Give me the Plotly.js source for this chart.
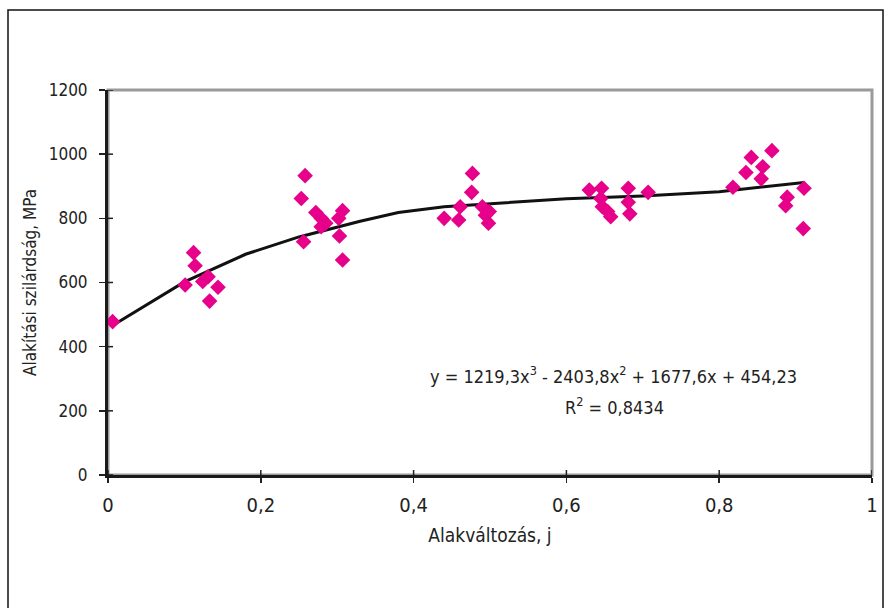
<!DOCTYPE html>
<html>
<head>
<meta charset="utf-8">
<script src="https://cdn.plot.ly/plotly-3.0.1.min.js"></script>
<style>
  html, body { margin: 0; padding: 0; background: #fff; }
  #chart { width: 884px; height: 608px; }
</style>
</head>
<body>
<div id="chart"></div>
<script>
// Measured data points (Alakváltozás, j  vs  Alakítási szilárdság, MPa)
const strainX = [
  0.006,
  0.101, 0.112, 0.114, 0.124, 0.131, 0.133, 0.144,
  0.253, 0.256, 0.258, 0.272, 0.279, 0.279, 0.285, 0.302, 0.303, 0.307, 0.307,
  0.440, 0.459, 0.461, 0.476, 0.477, 0.490, 0.494, 0.498, 0.499,
  0.630, 0.645, 0.646, 0.647, 0.654, 0.658, 0.681, 0.681, 0.683, 0.707,
  0.818, 0.835, 0.842, 0.855, 0.857, 0.869, 0.887, 0.889, 0.910, 0.911
];
const stressY = [
  478,
  592, 693, 652, 603, 618, 542, 585,
  862, 727, 933, 818, 800, 774, 785, 800, 745, 824, 670,
  800, 795, 836, 881, 940, 836, 810, 785, 821,
  888, 862, 894, 836, 821, 805, 894, 850, 814, 881,
  897, 943, 990, 923, 961, 1011, 839, 866, 768, 894
];
// Trend line
const trendX = [0.006, 0.10, 0.18, 0.25, 0.33, 0.38, 0.44, 0.50, 0.60, 0.70, 0.80, 0.911];
const trendY = [466, 602, 688, 742, 791, 818, 836, 846, 861, 870, 883, 912];

const xTicks = [0, 0.2, 0.4, 0.6, 0.8, 1];
const xTickText = ['0', '0,2', '0,4', '0,6', '0,8', '1'];
const yTicks = [0, 200, 400, 600, 800, 1000, 1200];
const yTickText = ['0', '200', '400', '600', '800', '1000', '1200'];

const eqText = 'y = 1219,3x<sup>3</sup> - 2403,8x<sup>2</sup> + 1677,6x + 454,23';
const r2Text = 'R<sup>2</sup> = 0,8434';
const xTitle = 'Alakváltozás, j';
const yTitle = 'Alakítási szilárdság, MPa';

const FONT = '"DejaVu Sans Condensed", "Liberation Sans Narrow", sans-serif';
const TXT = '#222222';

const traces = [
  {
    x: trendX, y: trendY, type: 'scatter', mode: 'lines',
    line: { color: '#111111', width: 3 }, hoverinfo: 'skip', showlegend: false
  },
  {
    x: strainX, y: stressY, type: 'scatter', mode: 'markers',
    marker: { symbol: 'diamond', size: 12, color: '#e6008a', line: { width: 0 } },
    showlegend: false
  }
];

// inner half of the crossing tick marks
const innerTicks = [];
xTicks.forEach(v => innerTicks.push({
  type: 'line', xref: 'x', yref: 'paper', x0: v, x1: v, y0: 0, y1: 5 / 385,
  line: { color: '#222222', width: 1.5 }, layer: 'above'
}));
yTicks.forEach(v => innerTicks.push({
  type: 'line', xref: 'paper', yref: 'y', x0: 0, x1: 5 / 764, y0: v, y1: v,
  line: { color: '#222222', width: 1.5 }, layer: 'above'
}));

const layout = {
  width: 884, height: 608,
  margin: { l: 108, r: 12, t: 90, b: 133, pad: 0 },
  paper_bgcolor: '#ffffff', plot_bgcolor: '#ffffff',
  font: { family: FONT, color: TXT, size: 17 },
  showlegend: false,
  xaxis: {
    range: [0, 1], tickvals: xTicks, ticktext: xTickText,
    ticks: 'outside', ticklen: 5, tickwidth: 1.5, tickcolor: '#222',
    showline: true, linecolor: '#1a1a1a', linewidth: 3,
    showgrid: false, zeroline: false,
    tickfont: { family: FONT, size: 20, color: TXT },
    ticklabelstandoff: 5,
    title: { text: xTitle, font: { family: FONT, size: 19, color: TXT }, standoff: 13 }
  },
  yaxis: {
    range: [0, 1200], tickvals: yTicks, ticktext: yTickText,
    ticks: 'outside', ticklen: 6, tickwidth: 1.5, tickcolor: '#222',
    showline: true, linecolor: '#1a1a1a', linewidth: 3,
    showgrid: false, zeroline: false,
    tickfont: { family: FONT, size: 17, color: TXT },
    ticklabelstandoff: 8,
    title: { text: yTitle, font: { family: FONT, size: 17, color: TXT }, standoff: 8 }
  },
  shapes: [
    { type: 'rect', xref: 'paper', yref: 'paper', x0: 0, x1: 1, y0: 0, y1: 1,
      line: { color: '#9a9a9a', width: 3 }, layer: 'below' },
    { type: 'rect', xref: 'paper', yref: 'paper',
      x0: (8 - 108) / 764, x1: (883 - 108) / 764,
      y0: (475 - 650) / 385, y1: (475 - 10) / 385,
      line: { color: '#111111', width: 1.5 }, layer: 'below' }
  ].concat(innerTicks),
  annotations: [
    { xref: 'paper', yref: 'paper', x: (613 - 108) / 764, y: (475 - 375) / 385,
      text: eqText, showarrow: false, xanchor: 'center', yanchor: 'middle',
      font: { family: FONT, size: 18, color: TXT } },
    { xref: 'paper', yref: 'paper', x: (614 - 108) / 764, y: (475 - 406) / 385,
      text: r2Text, showarrow: false, xanchor: 'center', yanchor: 'middle',
      font: { family: FONT, size: 18, color: TXT } }
  ]
};

Plotly.newPlot('chart', traces, layout, { displayModeBar: false, staticPlot: true });
</script>
</body>
</html>
